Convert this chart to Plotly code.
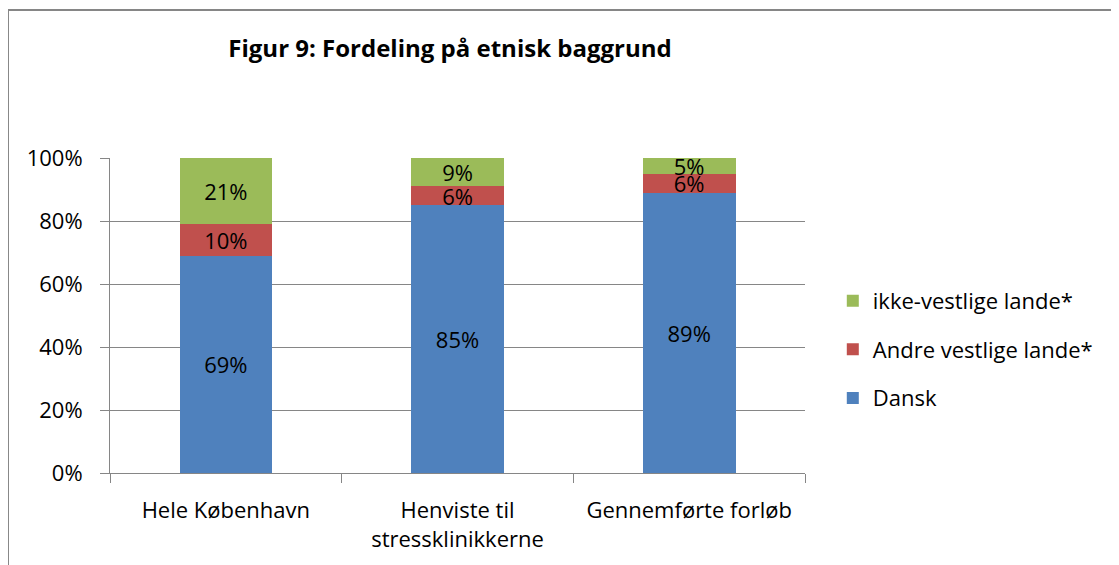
import plotly.graph_objects as go

categories = ["Hele København", "Henviste til<br>stressklinikkerne", "Gennemførte forløb"]
dansk = [69, 85, 89]
andre_vestlige = [10, 6, 6]
ikke_vestlige = [21, 9, 5]

series = [
    ("Dansk", dansk, "#4F81BD", 3),
    ("Andre vestlige lande*", andre_vestlige, "#C0504D", 2),
    ("ikke-vestlige lande*", ikke_vestlige, "#9BBB59", 1),
]

FONT = "Open Sans"

fig = go.Figure()
for name, vals, color, rank in series:
    fig.add_trace(
        go.Bar(
            x=categories,
            y=vals,
            name=name,
            legendgroup=name,
            legendrank=rank,
            marker=dict(color=color, line=dict(width=0)),
            text=[f"{v}%" for v in vals],
            textposition="inside",
            insidetextanchor="middle",
            textangle=0,
            textfont=dict(family=FONT, size=22, color="black"),
            constraintext="none",
            cliponaxis=False,
        )
    )

# page body adds an 8px offset, so margins are shifted by 8px
fig.update_layout(
    barmode="stack",
    bargap=0.6,
    width=1119,
    height=565,
    margin=dict(l=102, r=322, t=150, b=100),
    paper_bgcolor="white",
    plot_bgcolor="white",
    font=dict(family=FONT, size=22, color="black"),
    uniformtext=dict(minsize=10, mode="show"),
    title=dict(
        text="<b>Figur 9: Fordeling på etnisk baggrund</b>",
        font=dict(family=FONT, size=24, color="black"),
        x=0.395,
        xref="container",
        xanchor="center",
        y=0.929,
        yref="container",
        yanchor="middle",
    ),
    legend=dict(
        x=1.04,
        xanchor="left",
        y=0.613,
        yanchor="top",
        traceorder="grouped",
        tracegroupgap=17,
        font=dict(family=FONT, size=22),
        bgcolor="rgba(0,0,0,0)",
    ),
    xaxis=dict(
        showline=True,
        linecolor="#868686",
        linewidth=1,
        ticks="outside",
        tickson="boundaries",
        ticklen=9,
        tickcolor="#868686",
        ticklabelstandoff=18,
        showgrid=False,
    ),
    yaxis=dict(
        range=[0, 100],
        tickvals=[0, 20, 40, 60, 80, 100],
        ticktext=["0%", "20%", "40%", "60%", "80%", "100%"],
        showline=True,
        linecolor="#868686",
        linewidth=1,
        ticks="outside",
        ticklen=9,
        tickcolor="#868686",
        ticklabelstandoff=13,
        showgrid=True,
        gridcolor="#868686",
        gridwidth=1,
        zeroline=False,
    ),
    shapes=[
        dict(
            type="rect",
            xref="paper",
            yref="paper",
            x0=-0.1468,
            x1=1.47,
            y0=-0.33,
            y1=1.4698,
            line=dict(color="#868686", width=2),
            fillcolor="rgba(0,0,0,0)",
            layer="below",
        )
    ],
)

fig.write_html("out.html")
